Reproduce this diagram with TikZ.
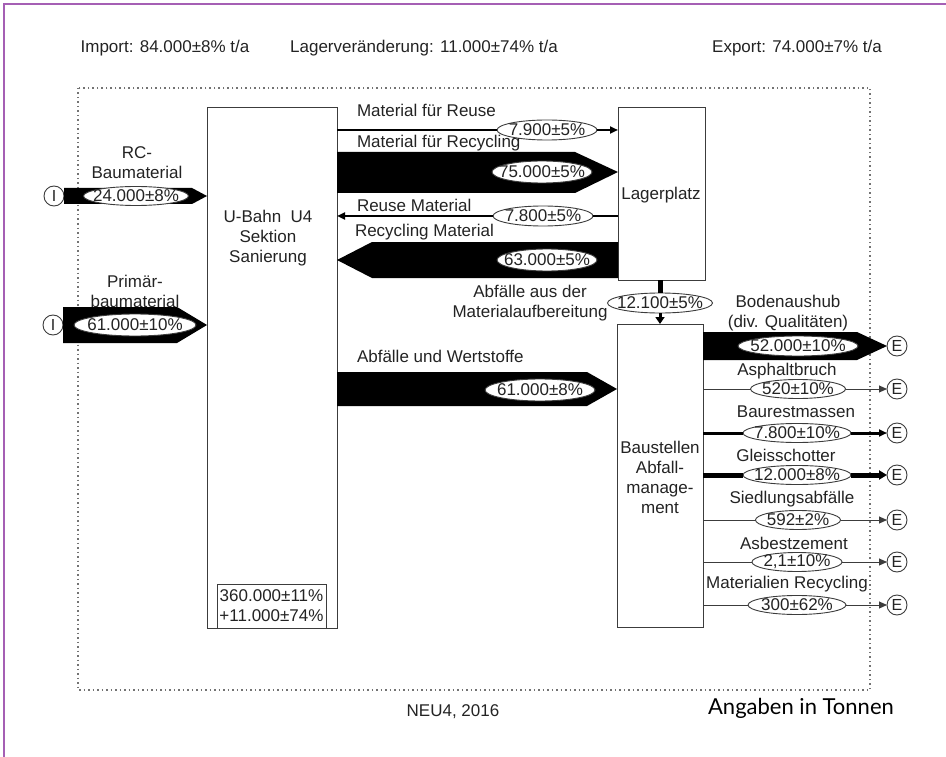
\documentclass[tikz,border=0pt]{standalone}
\usepackage{fontspec}
\setmainfont{Liberation Sans}
\newfontfamily\angfont{Lato}
\usetikzlibrary{shapes.geometric,arrows.meta,calc}
\definecolor{framepurple}{RGB}{165,95,180}
\definecolor{ink}{RGB}{35,35,35}
\definecolor{edge}{RGB}{60,60,60}
\begin{document}
\begin{tikzpicture}[x=1pt,y=-1pt,
  every node/.style={font=\fontsize{17}{20}\selectfont, text=ink, inner sep=0pt, outer sep=0pt},
  box/.style={draw=edge, line width=1pt, fill=white},
  val/.style={ellipse, draw=edge, line width=0.9pt, fill=white, inner xsep=-12pt, inner ysep=-3pt, minimum height=20pt},
  term/.style={circle, draw=edge, line width=0.9pt, fill=white, minimum size=20pt, font=\fontsize{16}{16}\selectfont},
  tip/.style={-{Triangle[length=8pt,width=7pt]}},
  fine/.style={draw=edge, line width=1pt},
  band/.style={fill=black},
  boundary/.style={draw=gray!90!black, line width=1.2pt, dash pattern=on 1.5pt off 3pt}
]
\useasboundingbox (0,0) rectangle (946,757);
% frame
\draw[framepurple, line width=2pt] (4,757) -- (4,4) -- (946,4);
% header
\node (imp) at (165,48) {Import: 84.000±8\% t/a};
\node (lagv) at (424,48) {Lagerveränderung: 11.000±74\% t/a};
\node (exp) at (797,48) {Export: 74.000±7\% t/a};
% boundary
\draw[boundary] (78,88) rectangle (870,690);
% boxes
\node[box, anchor=north west, minimum width=130pt, minimum height=520pt] (ub) at (207,108) {};
\node[align=center] (ubtxt) at (268,238) {U-Bahn\ \ U4\\Sektion\\Sanierung};
\node[box, anchor=north west, minimum width=109pt, minimum height=44pt] (stock) at (217,584) {};
\node[align=center] (stocktxt) at (stock.center) {360.000±11\%\\+11.000±74\%};
\node[box, anchor=north west, minimum width=87pt, minimum height=172pt] (lag) at (618,108) {};
\node (lagtxt) at (661,195) {Lagerplatz};
\node[box, anchor=north west, minimum width=86pt, minimum height=303pt] (bam) at (617,324) {};
\node[align=center] (bamtxt) at (660,477) {Baustellen\\Abfall-\\manage-\\ment};
% Material fuer Reuse
\node[anchor=west] (t8) at (357,110) {Material für Reuse};
\node[val, minimum width=100pt] (v1) at (547,130) {7.900±5\%};
\draw[black, line width=2.5pt] (ub.east |- v1) -- (v1.west);
\draw[black, line width=2.5pt, tip] (v1.east) -- (lag.west |- v1);
% Material fuer Recycling
\fill[band] (ub.east |- 0,152) -- (575,152) -- (lag.west |- 0,172) -- (575,193) -- (ub.east |- 0,193) -- cycle;
\node[anchor=west] (t9) at (357,143) {Material für Recycling};
\node[val, minimum width=100pt, minimum height=22pt] (v2) at (542,172) {75.000±5\%};
% Reuse Material
\node[anchor=west] (t10) at (357,205) {Reuse Material};
\node[val, minimum width=100pt] (v3) at (543,216) {7.800±5\%};
\draw[black, line width=2pt] (lag.west |- v3) -- (v3.east);
\draw[black, line width=2pt, tip] (v3.west) -- (ub.east |- v3);
% Recycling Material
\fill[band] (lag.west |- 0,242) -- (372,242) -- (ub.east |- 0,260) -- (372,278) -- (lag.west |- 0,278) -- cycle;
\node[anchor=west] (t11) at (355,232) {Recycling Material};
\node[val, minimum width=100pt, minimum height=22pt] (v4) at (547,260) {63.000±5\%};
% Abfaelle und Wertstoffe
\fill[band] (ub.east |- 0,372) -- (587,372) -- (bam.west |- 0,389) -- (587,406) -- (ub.east |- 0,406) -- cycle;
\node[anchor=west] (t12) at (357,356) {Abfälle und Wertstoffe};
\node[val, minimum width=110pt, minimum height=22pt] (v5) at (540,390) {61.000±8\%};
% Lagerplatz -> Baustellen
\node[val, minimum width=105pt] (v6) at (660,303) {12.100±5\%};
\draw[black, line width=5pt] (v6 |- lag.south) -- (v6.north);
\draw[black, line width=3pt, -{Triangle[length=7pt,width=9pt]}] (v6.south) -- (v6 |- bam.north);
\node[align=center] (t13) at (530,303) {Abfälle aus der\\Materialaufbereitung};
% Inflows
\node[term] (i1) at (54,196) {I};
\fill[band] (i1.east |- 0,188) -- (192,188) -- (ub.west |- 0,196) -- (192,204) -- (i1.east |- 0,204) -- cycle;
\node[val, minimum width=105pt, minimum height=19pt] (v7) at (136,196) {24.000±8\%};
\node[align=center] (l7) at (137,163) {RC-\\Baumaterial};
\node[term] (i2) at (53,325) {I};
\fill[band] (i2.east |- 0,307) -- (177,307) -- (ub.west |- 0,325) -- (177,343) -- (i2.east |- 0,343) -- cycle;
\node[val, minimum width=122pt, minimum height=22pt] (v8) at (135,325) {61.000±10\%};
\node[align=center] (l8) at (135,291) {Primär-\\baumaterial};
% Outflows
\node[term] (e1) at (897,346) {E};
\node[term] (e2) at (897,389) {E};
\node[term] (e3) at (897,433) {E};
\node[term] (e4) at (897,475) {E};
\node[term] (e5) at (897,520) {E};
\node[term] (e6) at (897,562) {E};
\node[term] (e7) at (897,605) {E};
% Bodenaushub
\fill[band] (bam.east |- 0,332) -- (857,332) -- (e1.west) -- (857,360) -- (bam.east |- 0,360) -- cycle;
\node[val, minimum width=120pt] (v9) at (798,346) {52.000±10\%};
\node[align=center] (t1) at (788,313) {Bodenaushub\\(div. Qualitäten)};
% Asphaltbruch
\node (t2) at (787,371) {Asphaltbruch};
\node[val, minimum width=95pt, minimum height=19pt] (v10) at (798,389) {520±10\%};
\draw[fine] (bam.east |- v10) -- (v10.west);
\draw[fine, tip] (v10.east) -- (e2.west);
% Baurestmassen
\node (t3) at (796,412) {Baurestmassen};
\node[val, minimum width=108pt, minimum height=19pt] (v11) at (797,433) {7.800±10\%};
\draw[black, line width=3pt] (bam.east |- v11) -- (v11.west);
\draw[black, line width=3pt, tip] (v11.east) -- (e3.west);
% Gleisschotter
\node (t4) at (786,455) {Gleisschotter};
\node[val, minimum width=108pt, minimum height=19pt] (v12) at (797,475) {12.000±8\%};
\draw[black, line width=5pt] (bam.east |- v12) -- (v12.west);
\draw[black, line width=5pt, -{Triangle[length=8pt,width=9pt]}] (v12.east) -- (e4.west);
% Siedlungsabfaelle
\node (t5) at (792,499) {Siedlungsabfälle};
\node[val, minimum width=85pt, minimum height=19pt] (v13) at (798,520) {592±2\%};
\draw[fine] (bam.east |- v13) -- (v13.west);
\draw[fine, tip] (v13.east) -- (e5.west);
% Asbestzement
\node (t6) at (794,543) {Asbestzement};
\node[val, minimum width=90pt, minimum height=19pt] (v14) at (797,562) {2,1±10\%};
\draw[fine] (bam.east |- v14) -- (v14.west);
\draw[fine, tip] (v14.east) -- (e6.west);
% Materialien Recycling
\node (t7) at (787,584) {Materialien Recycling};
\node[val, minimum width=98pt, minimum height=19pt] (v15) at (797,605) {300±62\%};
\draw[fine] (bam.east |- v15) -- (v15.west);
\draw[fine, tip] (v15.east) -- (e7.west);
% footer
\node (neu) at (453,712) {NEU4, 2016};
\node[font=\angfont\fontsize{22}{25}\selectfont, text=black] (ang) at (801,708) {Angaben in Tonnen};
\end{tikzpicture}
\end{document}
